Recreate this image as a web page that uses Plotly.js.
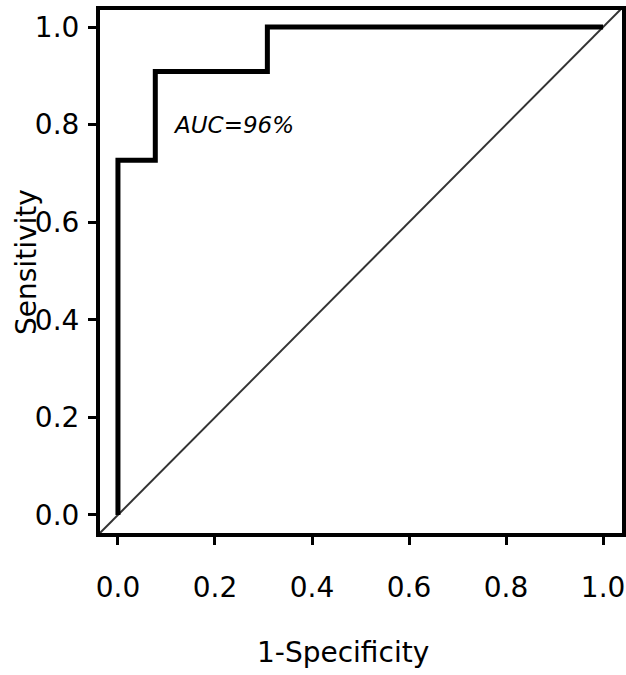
<!DOCTYPE html>
<html>
<head>
<meta charset="utf-8">
<script src="https://cdn.plot.ly/plotly-3.0.1.min.js"></script>
<style>html,body{margin:0;padding:0;background:#fff;}#chart{width:626px;height:675px;}</style>
</head>
<body>
<div id="chart"></div>
<script>
// ROC curve points (1-Specificity, Sensitivity)
const fpr = [0, 0, 0.077, 0.077, 0.308, 0.308, 1.0];
const tpr = [0, 0.727, 0.727, 0.909, 0.909, 1.0, 1.0];
// chance diagonal
const diagX = [-0.037, 1.037];
const diagY = [-0.037, 1.037];
const tickVals = [0, 0.2, 0.4, 0.6, 0.8, 1.0];
const tickText = ["0.0", "0.2", "0.4", "0.6", "0.8", "1.0"];
const aucLabel = "AUC=96%";
const xTitle = "1-Specificity";
const yTitle = "Sensitivity";

const font = "DejaVu Sans, sans-serif";

const traces = [
  {x: diagX, y: diagY, mode: "lines", line: {color: "#333", width: 2}, hoverinfo: "skip"},
  {x: fpr, y: tpr, mode: "lines", line: {color: "#000", width: 5}, hoverinfo: "skip"}
];

const axisCommon = {
  showgrid: false, zeroline: false,
  showline: true, linecolor: "#000", linewidth: 4, mirror: true,
  ticks: "outside", ticklen: 8, tickwidth: 3, tickcolor: "#000",
  tickvals: tickVals, ticktext: tickText,
  tickfont: {family: font, size: 28, color: "#000"}
};

const layout = {
  width: 626, height: 675,
  margin: {l: 100, r: 4, t: 10, b: 142},
  paper_bgcolor: "#fff", plot_bgcolor: "#fff",
  showlegend: false,
  xaxis: Object.assign({}, axisCommon, {
    range: [-0.037, 1.039],
    ticklabelstandoff: 18
  }),
  yaxis: Object.assign({}, axisCommon, {
    range: [-0.037, 1.035],
    ticklabelstandoff: 3
  }),
  annotations: [
    {x: 0.11, y: 0.80, xref: "x", yref: "y", text: "<i>" + aucLabel + "</i>", showarrow: false,
     xanchor: "left", yanchor: "middle", font: {family: font, size: 23, color: "#000"}},
    {x: -0.142, y: 0.518, xref: "paper", yref: "paper", text: yTitle, showarrow: false, textangle: -90,
     font: {family: font, size: 28, color: "#000"}, xanchor: "center", yanchor: "middle"},
    {x: 0.466, y: -0.229, xref: "paper", yref: "paper", text: xTitle, showarrow: false,
     font: {family: font, size: 28, color: "#000"}, xanchor: "center", yanchor: "middle"}
  ]
};
Plotly.newPlot("chart", traces, layout, {staticPlot: true, displayModeBar: false});
</script>
</body>
</html>
